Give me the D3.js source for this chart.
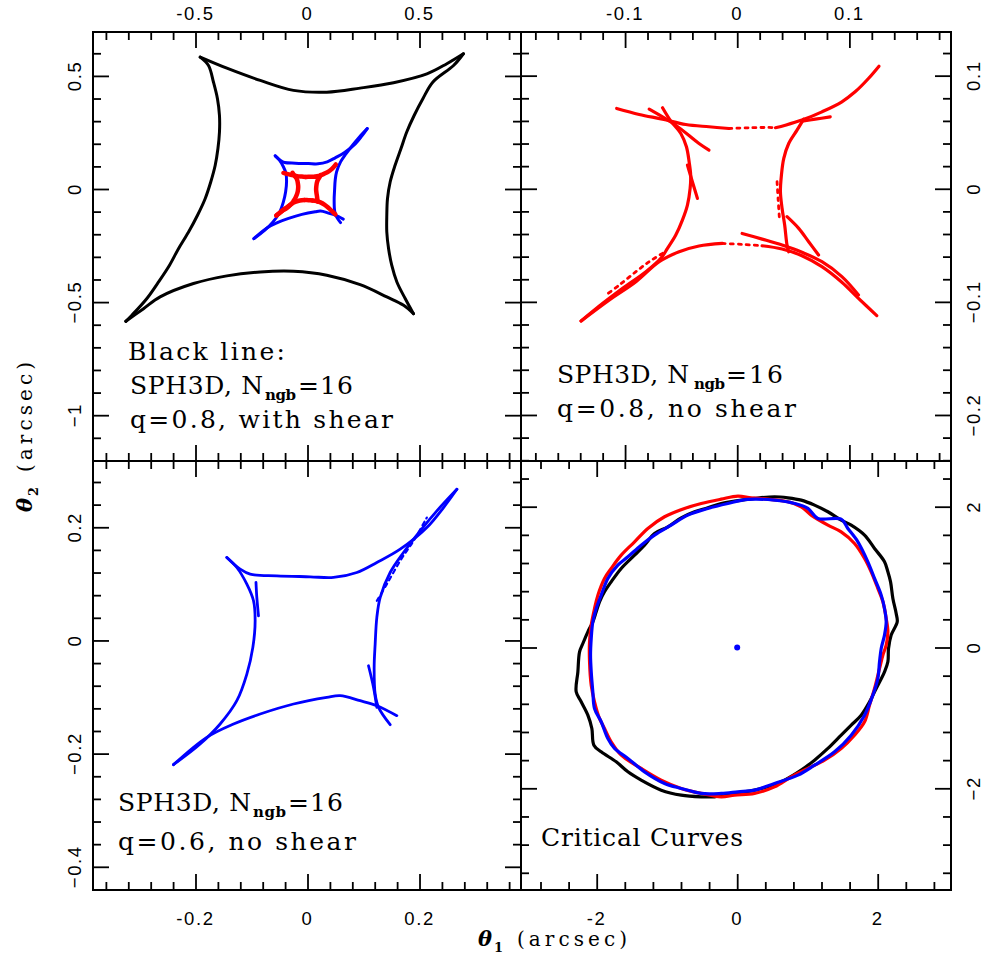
<!DOCTYPE html>
<html>
<head>
<meta charset="utf-8">
<script src="https://cdn.jsdelivr.net/npm/d3@7/dist/d3.min.js"></script>
<style>
  body { margin: 0; background: #fff; }
  svg { display: block; }
</style>
</head>
<body>
<svg id="chart" width="985" height="959"></svg>
<script>
// ---------------------------------------------------------------
// Caustics (source plane) and critical curves, in arcsec.
// ---------------------------------------------------------------

// q=0.8 with external shear: four concave arcs between the cusps
const blackCausticArcs = [
  [[-0.479,0.583],[-0.360,0.534],[-0.211,0.480],[-0.0625,0.436],[0.086,0.428],[0.235,0.446],[0.384,0.470],[0.533,0.509],[0.622,0.554],[0.696,0.598]],
  [[0.696,0.598],[0.652,0.546],[0.560,0.473],[0.515,0.399],[0.476,0.325],[0.443,0.252],[0.417,0.178],[0.391,0.105],[0.369,0.031],[0.357,-0.043],[0.354,-0.116],[0.354,-0.190],[0.362,-0.264],[0.376,-0.337],[0.399,-0.411],[0.436,-0.484],[0.473,-0.551]],
  [[0.473,-0.551],[0.429,-0.514],[0.354,-0.477],[0.235,-0.423],[0.086,-0.381],[-0.0625,-0.364],[-0.211,-0.367],[-0.360,-0.384],[-0.509,-0.418],[-0.658,-0.477],[-0.732,-0.529],[-0.811,-0.585]],
  [[-0.811,-0.585],[-0.784,-0.558],[-0.717,-0.484],[-0.665,-0.411],[-0.616,-0.337],[-0.576,-0.264],[-0.531,-0.190],[-0.491,-0.116],[-0.457,-0.043],[-0.432,0.031],[-0.412,0.105],[-0.400,0.178],[-0.393,0.252],[-0.393,0.325],[-0.402,0.399],[-0.420,0.473],[-0.442,0.546],[-0.479,0.583]]
];

// q=0.8, no shear: strands of the SPH caustic
const redCausticStrands = [
  [[-0.1075,0.0710],[-0.0874,0.0657],[-0.0666,0.0615],[-0.0459,0.0568],[-0.0252,0.0548],[-0.0074,0.0533]],
  [[0.0341,0.0540],[0.0429,0.0562],[0.0577,0.0607],[0.0755,0.0680],[0.0933,0.0769],[0.1051,0.0857],[0.1170,0.0975],[0.1264,0.1084]],
  [[-0.0666,0.0716],[-0.0592,0.0598],[-0.0503,0.0489],[-0.0453,0.0371],[-0.0429,0.0239],[-0.0415,0.0121],[-0.0420,0.0003],[-0.0444,-0.0144],[-0.0489,-0.0277],[-0.0548,-0.0409],[-0.0622,-0.0527],[-0.0681,-0.0615],[-0.0814,-0.0733],[-0.1022,-0.0880],[-0.1199,-0.1013],[-0.1392,-0.1169]],
  [[-0.1392,-0.1169],[-0.1140,-0.0983],[-0.0903,-0.0822],[-0.0696,-0.0645],[-0.0518,-0.0557],[-0.0341,-0.0506],[-0.0133,-0.0483]],
  [[0.0222,-0.0504],[0.0400,-0.0533],[0.0577,-0.0592],[0.0755,-0.0689],[0.0933,-0.0827],[0.1081,-0.0969],[0.1244,-0.1122]],
  [[0.0592,0.0615],[0.0533,0.0518],[0.0459,0.0400],[0.0415,0.0268],[0.0394,0.0121],[0.0385,-0.0027],[0.0400,-0.0174],[0.0423,-0.0321],[0.0444,-0.0498],[0.0459,-0.0557]],
  [[-0.0785,0.0704],[-0.0548,0.0562],[-0.0341,0.0400],[-0.0252,0.0342]],
  [[-0.0444,0.0209],[-0.0400,0.0062],[-0.0355,-0.0085]],
  [[0.0444,-0.0247],[0.0548,-0.0350],[0.0637,-0.0468],[0.0725,-0.0586]],
  [[0.0044,-0.0395],[0.0222,-0.0445],[0.0400,-0.0498],[0.0577,-0.0562],[0.0755,-0.0645],[0.0933,-0.0777],[0.1081,-0.0939]],
  [[0.0577,0.0598],[0.0696,0.0615],[0.0829,0.0636]]
];
// sparsely sampled stretches of the same caustic
const redCausticDotted = [
  [[-0.0074,0.0533],[0.0104,0.0539],[0.0281,0.0542],[0.0341,0.0540]],
  [[-0.0133,-0.0483],[0.0044,-0.0492],[0.0222,-0.0504]],
  [[-0.0666,-0.0571],[-0.0785,-0.0645],[-0.0903,-0.0733],[-0.1051,-0.0851],[-0.1170,-0.0939]],
  [[0.0355,0.0062],[0.0364,-0.0085],[0.0376,-0.0262]]
];

// q=0.6, no shear
const blueCausticStrands = [
  [[-0.1440,0.1466],[-0.1202,0.1260],[-0.1024,0.1172],[-0.0548,0.1142],[0.0048,0.1125],[0.0464,0.1113],[0.0881,0.1201],[0.1238,0.1378],[0.1655,0.1613],[0.2131,0.1996],[0.2429,0.2349],[0.2667,0.2672]],
  [[0.2667,0.2672],[0.2310,0.2290],[0.2012,0.1937],[0.1714,0.1554],[0.1476,0.1201],[0.1298,0.0760],[0.1238,0.0407],[0.1208,-0.0064],[0.1190,-0.0476],[0.1208,-0.0947],[0.1268,-0.1182],[0.1476,-0.1488]],
  [[0.1595,-0.1329],[0.1238,-0.1153],[0.0940,-0.1065],[0.0583,-0.0976],[0.0345,-0.1006],[-0.0250,-0.1123],[-0.0845,-0.1300],[-0.1321,-0.1477],[-0.1798,-0.1712],[-0.2393,-0.2195]],
  [[-0.2393,-0.2195],[-0.1917,-0.1830],[-0.1560,-0.1477],[-0.1262,-0.1065],[-0.1083,-0.0594],[-0.0976,-0.0123],[-0.0935,0.0348],[-0.0964,0.0701],[-0.1083,0.0995],[-0.1262,0.1289],[-0.1440,0.1466]],
  [[-0.0920,0.1025],[-0.0905,0.0760],[-0.0875,0.0436]],
  [[0.1089,-0.0447],[0.1179,-0.0829],[0.1238,-0.1182]]
];
const blueCausticDotted = [
  [[0.1238,0.0701],[0.1417,0.0995],[0.1655,0.1407],[0.1893,0.1760],[0.2131,0.2172]]
];

// critical curves (image plane)
const criticalBlack = [
  [-0.323,-2.121],[-0.038,-2.073],[0.247,-2.026],[0.437,-1.979],[0.674,-1.884],[0.911,-1.742],[1.101,-1.600],[1.291,-1.434],[1.480,-1.245],[1.623,-1.103],[1.765,-0.961],[1.884,-0.771],[1.979,-0.582],[2.097,-0.345],[2.145,-0.203],[2.154,-0.014],[2.192,0.176],[2.278,0.365],[2.263,0.483],[2.216,0.696],[2.183,0.933],[2.145,1.075],[2.097,1.217],[1.955,1.407],[1.813,1.596],[1.623,1.738],[1.480,1.809],[1.291,1.928],[1.101,2.022],[0.911,2.093],[0.721,2.126],[0.531,2.141],[0.247,2.117],[-0.038,2.079],[-0.228,2.046],[-0.418,1.984],[-0.607,1.928],[-0.797,1.842],[-0.987,1.714],[-1.177,1.620],[-1.319,1.454],[-1.461,1.312],[-1.651,1.123],[-1.794,0.933],[-1.889,0.791],[-1.960,0.649],[-2.007,0.507],[-2.055,0.365],[-2.126,0.223],[-2.197,0.057],[-2.244,-0.061],[-2.268,-0.345],[-2.292,-0.629],[-2.221,-0.771],[-2.126,-0.961],[-2.069,-1.150],[-2.040,-1.387],[-1.936,-1.482],[-1.722,-1.624],[-1.556,-1.766],[-1.367,-1.884],[-1.082,-2.026],[-0.797,-2.097],[-0.512,-2.121]
];
const criticalRed = [
  [0.009,2.150],[0.199,2.126],[0.437,2.107],[0.721,2.070],[0.911,1.999],[1.053,1.880],[1.291,1.738],[1.480,1.643],[1.670,1.478],[1.813,1.265],[1.907,1.075],[2.002,0.839],[2.074,0.649],[2.121,0.412],[2.145,0.223],[2.121,0.034],[2.074,-0.108],[2.026,-0.298],[1.955,-0.582],[1.884,-0.819],[1.813,-1.055],[1.670,-1.245],[1.480,-1.434],[1.243,-1.600],[1.006,-1.718],[0.769,-1.837],[0.531,-1.979],[0.247,-2.073],[-0.038,-2.097],[-0.228,-2.121],[-0.512,-2.073],[-0.797,-2.002],[-1.082,-1.884],[-1.367,-1.718],[-1.651,-1.529],[-1.794,-1.339],[-1.889,-1.150],[-1.960,-1.008],[-2.031,-0.771],[-2.078,-0.535],[-2.102,-0.203],[-2.102,0.081],[-2.078,0.318],[-2.031,0.554],[-1.983,0.744],[-1.889,0.981],[-1.794,1.123],[-1.651,1.312],[-1.461,1.501],[-1.272,1.691],[-1.034,1.857],[-0.750,1.975],[-0.512,2.046],[-0.228,2.107]
];
const criticalBlue = [
  [0.152,2.103],[0.531,2.093],[0.816,2.046],[1.006,1.975],[1.148,1.833],[1.480,1.823],[1.575,1.691],[1.718,1.501],[1.860,1.217],[1.955,0.981],[2.050,0.744],[2.097,0.554],[2.121,0.365],[2.097,0.176],[2.050,-0.014],[2.026,-0.203],[2.002,-0.440],[1.931,-0.677],[1.813,-0.961],[1.623,-1.245],[1.386,-1.482],[1.101,-1.671],[0.864,-1.813],[0.531,-1.931],[0.247,-2.026],[0.009,-2.050],[-0.228,-2.073],[-0.512,-2.073],[-0.797,-2.002],[-1.034,-1.931],[-1.319,-1.766],[-1.556,-1.576],[-1.746,-1.434],[-1.841,-1.292],[-1.936,-1.055],[-2.031,-0.866],[-2.055,-0.629],[-2.078,-0.345],[-2.088,-0.108],[-2.078,0.128],[-2.055,0.365],[-2.007,0.554],[-1.936,0.744],[-1.841,0.981],[-1.699,1.170],[-1.556,1.288],[-1.367,1.454],[-1.177,1.596],[-0.940,1.738],[-0.702,1.880],[-0.418,1.975],[-0.133,2.046]
];
const lensCentre = [[0, 0]];

// tick values (major ticks carry labels)
const tlMajorX = [-0.5, 0, 0.5],   tlMajorY = [-1, -0.5, 0, 0.5];
const trMajorX = [-0.1, 0, 0.1],   trMajorY = [-0.2, -0.1, 0, 0.1];
const blMajorX = [-0.2, 0, 0.2],   blMajorY = [-0.4, -0.2, 0, 0.2];
const brMajorX = [-2, 0, 2],       brMajorY = [-2, 0, 2];

// ---------------------------------------------------------------
// layout
// ---------------------------------------------------------------
const svg = d3.select("#chart");
svg.append("rect").attr("width", 985).attr("height", 959).attr("fill", "#fff");

const panels = {
  tl: { px: [93, 521],  py: [461, 32],  xd: [-0.9576, 0.9531],  yd: [-1.2025, 0.6941], minorX: 0.1,  minorY: 0.1,  majX: tlMajorX, majY: tlMajorY },
  tr: { px: [521, 951], py: [461, 32],  xd: [-0.1928, 0.1906],  yd: [-0.2407, 0.1386], minorX: 0.02, minorY: 0.02, majX: trMajorX, majY: trMajorY },
  bl: { px: [93, 521],  py: [890, 461], xd: [-0.3830, 0.3812],  yd: [-0.4410, 0.3171], minorX: 0.04, minorY: 0.04, majX: blMajorX, majY: blMajorY },
  br: { px: [521, 951], py: [890, 461], xd: [-3.0776, 3.0434],  yd: [-3.4446, 2.6491], minorX: 0.4,  minorY: 0.4,  majX: brMajorX, majY: brMajorY }
};

Object.values(panels).forEach(p => {
  p.x = d3.scaleLinear().domain(p.xd).range(p.px);
  p.y = d3.scaleLinear().domain(p.yd).range(p.py);
});

function minorTicks(domain, step) {
  const out = [];
  const start = Math.ceil(domain[0] / step - 1e-6);
  const end = Math.floor(domain[1] / step + 1e-6);
  for (let i = start; i <= end; i++) out.push(+(i * step).toFixed(6));
  return out;
}

const MAJOR = 16, MINOR = 8;

function drawFrame(p) {
  const g = svg.append("g").attr("class", "frame");
  const xm = minorTicks(p.xd, p.minorX), ym = minorTicks(p.yd, p.minorY);
  const sides = [
    { axis: d3.axisBottom(p.x), tr: `translate(0,${p.py[1]})`, vals: xm, maj: p.majX },
    { axis: d3.axisTop(p.x),    tr: `translate(0,${p.py[0]})`, vals: xm, maj: p.majX },
    { axis: d3.axisRight(p.y),  tr: `translate(${p.px[0]},0)`, vals: ym, maj: p.majY },
    { axis: d3.axisLeft(p.y),   tr: `translate(${p.px[1]},0)`, vals: ym, maj: p.majY }
  ];
  sides.forEach(s => {
    const isMajor = v => s.maj.some(m => Math.abs(m - v) < 1e-6);
    g.append("g").attr("transform", s.tr)
      .call(s.axis.tickValues(s.vals.filter(v => !isMajor(v))).tickSize(MINOR).tickFormat(""))
      .call(a => a.select(".domain").remove());
    g.append("g").attr("transform", s.tr)
      .call(s.axis.tickValues(s.maj).tickSize(MAJOR).tickFormat(""))
      .call(a => a.select(".domain").remove());
  });
  g.selectAll(".tick line").attr("stroke", "#000").attr("stroke-width", 1.8);
  g.append("rect")
    .attr("x", p.px[0]).attr("y", p.py[1])
    .attr("width", p.px[1] - p.px[0]).attr("height", p.py[0] - p.py[1])
    .attr("fill", "none").attr("stroke", "#000").attr("stroke-width", 2);
}

const numFont = "'Liberation Sans', Arial, sans-serif";
const txtFont = "'DejaVu Serif', serif";

function fmtH(v) { return (v < 0 ? "-" : "") + String(Math.abs(v)); }
function fmtV(v) { return (v < 0 ? "\u2212" : "") + String(Math.abs(v)); }

function labelsTop(p, yBase) {
  p.majX.forEach(v => svg.append("text").attr("x", p.x(v)).attr("y", yBase)
    .attr("text-anchor", "middle").attr("font-family", numFont).attr("font-size", 18.5)
    .attr("letter-spacing", 1.6).text(fmtH(v)));
}
function labelsSide(p, xBase) {
  p.majY.forEach(v => svg.append("text")
    .attr("transform", `translate(${xBase},${p.y(v)}) rotate(-90)`)
    .attr("text-anchor", "middle").attr("font-family", numFont).attr("font-size", 18.5)
    .attr("letter-spacing", 1.6).text(fmtV(v)));
}

// ---------------------------------------------------------------
// curves
// ---------------------------------------------------------------
function lineFor(p, closed) {
  return d3.line().x(d => p.x(d[0])).y(d => p.y(d[1]))
    .curve(closed ? d3.curveCatmullRomClosed.alpha(0.5) : d3.curveCatmullRom.alpha(0.5));
}
function drawStrands(p, strands, color, width, dash) {
  const ln = lineFor(p, false);
  svg.append("g").selectAll("path").data(strands).join("path")
    .attr("d", ln).attr("fill", "none").attr("stroke", color)
    .attr("stroke-width", width).attr("stroke-linecap", "round").attr("stroke-linejoin", "round")
    .attr("stroke-dasharray", dash || null);
}
function drawClosed(p, pts, color, width) {
  svg.append("path").datum(pts).attr("d", lineFor(p, true))
    .attr("fill", "none").attr("stroke", color).attr("stroke-width", width)
    .attr("stroke-linejoin", "round");
}

const RED = "#ff0000", BLUE = "#0000ff", BLACK = "#000000";

// top-left: all three caustics
drawStrands(panels.tl, blackCausticArcs, BLACK, 3);
drawStrands(panels.tl, blueCausticStrands.slice(0, 4), BLUE, 3);
drawStrands(panels.tl, redCausticStrands.slice(0, 6), RED, 4.5);
drawStrands(panels.tl, redCausticDotted.slice(0, 2), RED, 4.5);

// top-right: q=0.8 caustic
drawStrands(panels.tr, redCausticStrands, RED, 3.2);
drawStrands(panels.tr, redCausticDotted, RED, 2.8, "3 5");

// bottom-left: q=0.6 caustic
drawStrands(panels.bl, blueCausticStrands, BLUE, 2.8);
drawStrands(panels.bl, blueCausticDotted, BLUE, 2.2, "4 4");

// bottom-right: critical curves and lens centre
drawClosed(panels.br, criticalBlack, BLACK, 3.2);
drawClosed(panels.br, criticalRed, RED, 3.2);
drawClosed(panels.br, criticalBlue, BLUE, 3.2);
svg.append("g").selectAll("circle").data(lensCentre).join("circle")
  .attr("cx", d => panels.br.x(d[0])).attr("cy", d => panels.br.y(d[1]))
  .attr("r", 3).attr("fill", BLUE);

// frames and ticks on top of the curves
Object.values(panels).forEach(drawFrame);

labelsTop(panels.tl, 20);
labelsTop(panels.tr, 20);
labelsTop(panels.bl, 925);
labelsTop(panels.br, 925);
labelsSide(panels.tl, 81);
labelsSide(panels.bl, 81);
labelsSide(panels.tr, 980);
labelsSide(panels.br, 980);

// ---------------------------------------------------------------
// annotations
// ---------------------------------------------------------------
function note(x, y, s, len, opt) {
  opt = opt || {};
  const t = svg.append("text").attr("x", x).attr("y", y)
    .attr("font-family", txtFont).attr("font-size", opt.size || 25)
    .attr("font-weight", opt.weight || "normal")
    .attr("font-style", opt.style || "normal").text(s);
  if (len) t.attr("textLength", len).attr("lengthAdjust", "spacing");
  return t;
}
function nngb(x, y, w1, xs, ws, xe, we) {
  note(x, y, "SPH3D, N", w1);
  note(xs, y + 6, "ngb", ws, { size: 15, weight: "bold" });
  note(xe, y, "=16", we);
}

note(128, 360, "Black line:", 157);
nngb(130, 394, 133, 265, 31, 298, 55);
note(130, 428, "q=0.8, with shear", 263);

nngb(557, 383, 132, 694, 31, 726, 57);
note(557, 417, "q=0.8, no shear", 239);

nngb(118, 811, 133, 253, 33, 288, 55);
note(118, 850, "q=0.6, no shear", 238);

note(541, 846, "Critical Curves", 202);

// axis titles
note(478, 946, "\u03b8", null, { size: 21, style: "italic", weight: "bold" });
note(494, 952, "1", null, { size: 13, weight: "bold" });
note(517, 946, "(arcsec)", 110, { size: 20 });

const yTitle = svg.append("g").attr("transform", "translate(32,512) rotate(-90)");
yTitle.append("text").attr("x", 0).attr("y", 0)
  .attr("font-family", txtFont).attr("font-size", 21).attr("font-style", "italic")
  .attr("font-weight", "bold").text("\u03b8");
yTitle.append("text").attr("x", 16).attr("y", 6)
  .attr("font-family", txtFont).attr("font-size", 13).attr("font-weight", "bold").text("2");
yTitle.append("text").attr("x", 40).attr("y", 0)
  .attr("font-family", txtFont).attr("font-size", 20)
  .attr("textLength", 110).attr("lengthAdjust", "spacing").text("(arcsec)");
</script>
</body>
</html>
